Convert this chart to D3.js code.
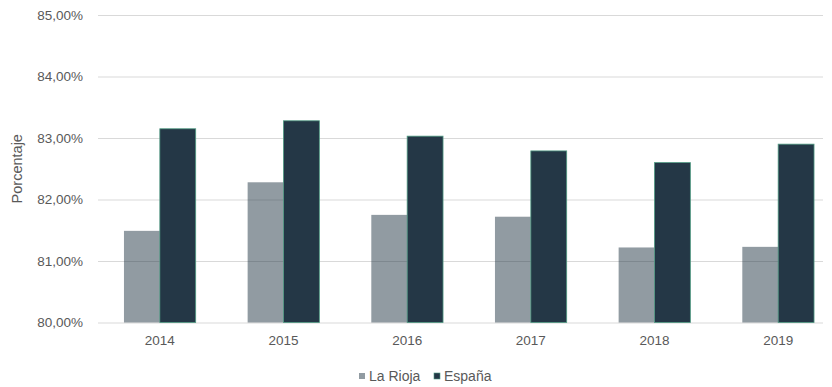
<!DOCTYPE html>
<html>
<head>
<meta charset="utf-8">
<script src="https://cdn.jsdelivr.net/npm/d3@7/dist/d3.min.js"></script>
<style>
  html, body { margin: 0; padding: 0; background: #fff; }
  svg { display: block; font-family: "Liberation Sans", Arial, Helvetica, sans-serif; }
</style>
</head>
<body>
<svg id="chart" width="832" height="387"></svg>
<script>
// Años y series (porcentaje)
const years = ["2014", "2015", "2016", "2017", "2018", "2019"];
const laRioja = [81.49, 82.28, 81.75, 81.72, 81.22, 81.23];
const espana  = [83.15, 83.28, 83.03, 82.79, 82.60, 82.90];
const yTicks  = [80, 81, 82, 83, 84, 85];
const seriesNames = ["La Rioja", "España"];

const darkFill = "#243746";
const edge = "#4f9a82";
const textColor = "#595959";
const gridColor = "#d9d9d9";

const svg = d3.select("#chart");

const plotLeft = 98, plotRight = 823, plotTop = 15, plotBottom = 322.5;

const y = d3.scaleLinear().domain([80, 85]).range([plotBottom, plotTop]);
const x = d3.scaleBand().domain(years).range([98, 840]).paddingInner(0.42).paddingOuter(0.21);
const xs = d3.scaleBand().domain(seriesNames).range([0, x.bandwidth()]);

const fmt = v => d3.format(".2f")(v).replace(".", ",") + "%";

// Líneas de cuadrícula y etiquetas del eje Y
const yAxis = d3.axisLeft(y).tickValues(yTicks).tickFormat(fmt)
  .tickSize(-(plotRight - plotLeft)).tickPadding(15);
const gy = svg.append("g").attr("transform", `translate(${plotLeft},0)`).call(yAxis);
gy.select(".domain").remove();
gy.selectAll(".tick line").attr("stroke", gridColor).attr("stroke-width", 1.2);
gy.selectAll(".tick text").attr("fill", textColor).attr("font-size", 13.5)
  .attr("font-family", "Liberation Sans, Arial, sans-serif");

// Barras
const groups = svg.append("g").selectAll("g").data(years).join("g")
  .attr("transform", d => `translate(${x(d)},0)`);

groups.append("rect")
  .attr("x", xs("La Rioja"))
  .attr("width", xs.bandwidth())
  .attr("y", (d, i) => y(laRioja[i]))
  .attr("height", (d, i) => y(80) - y(laRioja[i]))
  .attr("fill", darkFill).attr("fill-opacity", 0.5);

groups.append("rect")
  .attr("x", xs("España"))
  .attr("width", xs.bandwidth())
  .attr("y", (d, i) => y(espana[i]))
  .attr("height", (d, i) => y(80) - y(espana[i]))
  .attr("fill", darkFill).attr("stroke", edge).attr("stroke-width", 0.8);

// Eje X
const xAxis = d3.axisBottom(x).tickSize(0).tickPadding(13);
const gx = svg.append("g").attr("transform", `translate(0,${plotBottom})`).call(xAxis);
gx.select(".domain").remove();
gx.selectAll(".tick text").attr("fill", textColor).attr("font-size", 13.5)
  .attr("font-family", "Liberation Sans, Arial, sans-serif");

// Título del eje Y
svg.append("text")
  .attr("transform", `translate(22,${(plotTop + plotBottom) / 2}) rotate(-90)`)
  .attr("text-anchor", "middle")
  .attr("fill", textColor).attr("font-size", 14.5)
  .text("Porcentaje");

// Leyenda
const legend = svg.append("g").attr("transform", "translate(359,373)");
const items = [
  { name: "La Rioja", x: 0, fill: darkFill, op: 0.5, stroke: "none" },
  { name: "España", x: 75, fill: darkFill, op: 1, stroke: edge }
];
const li = legend.selectAll("g").data(items).join("g").attr("transform", d => `translate(${d.x},0)`);
li.append("rect").attr("width", 6).attr("height", 6)
  .attr("fill", d => d.fill).attr("fill-opacity", d => d.op)
  .attr("stroke", d => d.stroke).attr("stroke-width", 0.6);
li.append("text").attr("x", 10).attr("y", 7.5)
  .attr("fill", textColor).attr("font-size", 14).text(d => d.name);
</script>
</body>
</html>
